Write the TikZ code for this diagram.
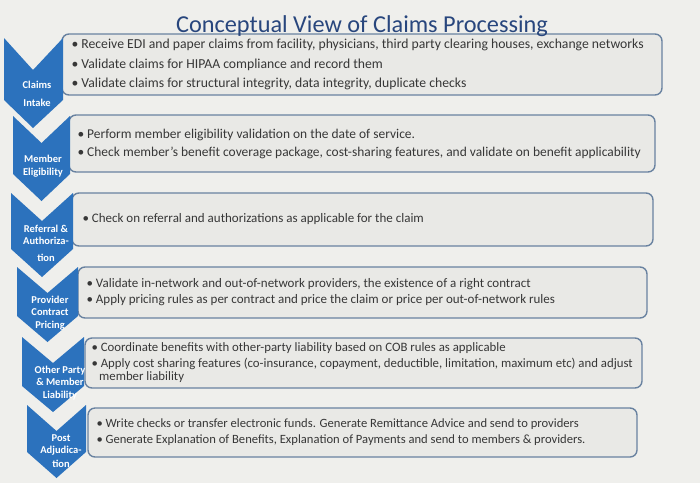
\documentclass[tikz,border=0pt]{standalone}
\usepackage{fontspec}
\setmainfont{Carlito}
\definecolor{chevblue}{RGB}{44,114,189}
\definecolor{boxline}{RGB}{105,130,160}
\definecolor{boxfill}{RGB}{233,233,230}
\definecolor{bgcol}{RGB}{239,239,236}
\definecolor{titleblue}{RGB}{40,70,125}
\definecolor{textgray}{RGB}{55,55,55}
\begin{document}
\begin{tikzpicture}[x=1pt, y=-1pt,
    stepbox/.style={draw=boxline, line width=1.4pt, rounded corners=7pt, fill=boxfill, inner sep=0pt},
    steptext/.style={text=textgray, align=left, inner sep=0pt, anchor=west},
    chevlabel/.style={text=white, align=center, inner sep=0pt,
        font=\bfseries\fontsize{10.5}{12.5}\selectfont}]
    \fill[bgcol] (0, 0) rectangle (700, 483);
    \useasboundingbox (0, 0) rectangle (700, 483);
    \node[stepbox, minimum width=600, minimum height=61] (intake) at (362, 64.5) {};
    \node[stepbox, minimum width=586, minimum height=57] (elig) at (362, 143.5) {};
    \node[stepbox, minimum width=581, minimum height=53] (refer) at (362.5, 219.5) {};
    \node[stepbox, minimum width=569, minimum height=51] (pricing) at (362.5, 292.5) {};
    \node[stepbox, minimum width=557, minimum height=50] (liab) at (363.5, 363) {};
    \node[stepbox, minimum width=549, minimum height=49] (post) at (362.5, 432.5) {};
    \node[steptext, font=\fontsize{13.7}{19.5}\selectfont] (intaketxt) at ([xshift=10pt]intake.west)
        {\textbullet\ Receive EDI and paper claims from facility, physicians, third party clearing houses, exchange networks\\
         \textbullet\ Validate claims for HIPAA compliance and record them\\
         \textbullet\ Validate claims for structural integrity, data integrity, duplicate checks};
    \node[steptext, font=\fontsize{13.45}{18}\selectfont] (eligtxt) at ([xshift=9pt]elig.west)
        {\textbullet\ Perform member eligibility validation on the date of service.\\
         \textbullet\ Check member’s benefit coverage package, cost-sharing features, and validate on benefit applicability};
    \node[steptext, font=\fontsize{13}{17}\selectfont] (refertxt) at ([xshift=11pt]refer.west)
        {\textbullet\ Check on referral and authorizations as applicable for the claim};
    \node[steptext, font=\fontsize{13}{16}\selectfont] (pricingtxt) at ([xshift=9pt]pricing.west)
        {\textbullet\ Validate in-network and out-of-network providers, the existence of a right contract\\
         \textbullet\ Apply pricing rules as per contract and price the claim or price per out-of-network rules};
    \node[steptext, font=\fontsize{12.8}{16}\selectfont] (liabtxt) at ([xshift=7pt]liab.west)
        {\textbullet\ Coordinate benefits with other-party liability based on COB rules as applicable\\
         \textbullet\ Apply cost sharing features (co-insurance, copayment, deductible, limitation, maximum etc) and adjust\\[-3pt]
         \hspace*{0.6em}member liability};
    \node[steptext, font=\fontsize{12.6}{16}\selectfont] (posttxt) at ([xshift=9pt]post.west)
        {\textbullet\ Write checks or transfer electronic funds. Generate Remittance Advice and send to providers\\
         \textbullet\ Generate Explanation of Benefits, Explanation of Payments and send to members \& providers.};
    \fill[chevblue] (4, 38) -- (33, 70) -- (63, 38) -- (63, 100) -- (33, 128) -- (4, 100) -- cycle;
    \fill[chevblue] (13, 116) -- (41.5, 143) -- (70, 116) -- (70, 174) -- (41.5, 201) -- (13, 174) -- cycle;
    \fill[chevblue] (11, 193) -- (42, 221) -- (73, 193) -- (73, 249) -- (42, 277) -- (11, 249) -- cycle;
    \fill[chevblue] (17, 267) -- (47.5, 293) -- (78, 267) -- (78, 316) -- (47.5, 342) -- (17, 316) -- cycle;
    \fill[chevblue] (22, 337) -- (53, 363) -- (84, 337) -- (84, 386) -- (53, 412) -- (22, 386) -- cycle;
    \fill[chevblue] (27, 405) -- (56.5, 431) -- (86, 405) -- (86, 452) -- (56.5, 478) -- (27, 452) -- cycle;
    \node[chevlabel] (intakelbl) at (37, 94) {Claims\\[6pt]Intake};
    \node[chevlabel] (eliglbl) at (43, 166) {Member\\Eligibility};
    \node[chevlabel] (referlbl) at (46, 243) {Referral \&\\Authoriza-\\[4pt]tion};
    \node[chevlabel] (pricinglbl) at (50, 313) {Provider\\Contract\\Pricing};
    \node[chevlabel] (liablbl) at (60, 383) {Other Party\\\& Member\\Liability};
    \node[chevlabel] (postlbl) at (61, 451) {Post\\Adjudica-\\[1pt]tion};
    \node[text=titleblue, font=\fontsize{24.3}{28}\selectfont, anchor=base] (title) at (362, 32)
        {Conceptual View of Claims Processing};
\end{tikzpicture}
\end{document}
